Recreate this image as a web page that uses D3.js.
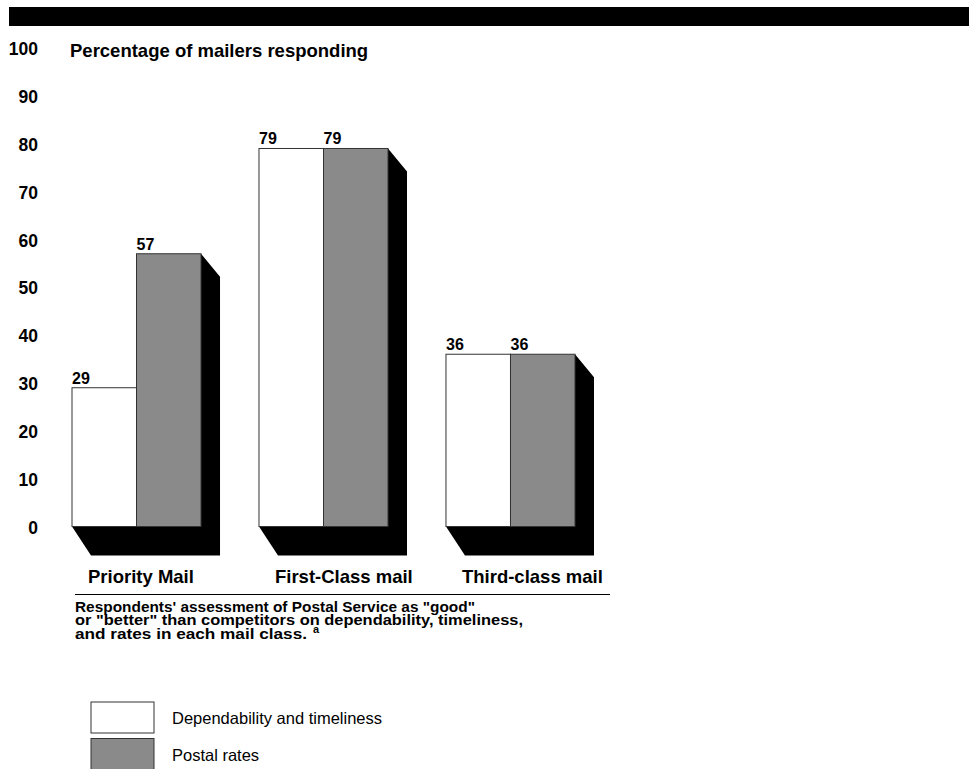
<!DOCTYPE html>
<html>
<head>
<meta charset="utf-8">
<script src="https://cdn.jsdelivr.net/npm/d3@7"></script>
<style>
  body { margin: 0; background: #fff; }
  svg { display: block; font-family: "Liberation Sans", Arial, sans-serif; }
</style>
</head>
<body>
<svg id="chart" width="969" height="769"></svg>
<script>
// data
const categories = ["Priority Mail", "First-Class mail", "Third-class mail"];
const seriesNames = ["Dependability and timeliness", "Postal rates"];
const dependability = [29, 79, 36];
const postalRates = [57, 79, 36];
const yTicks = [0, 10, 20, 30, 40, 50, 60, 70, 80, 90, 100];
const captionLines = [
  "Respondents' assessment of Postal Service as \"good\"",
  "or \"better\" than competitors on dependability, timeliness,",
  "and rates in each mail class."
];
const captionWidths = [400, 448, 232];

const colors = ["#ffffff", "#8a8a8a"];
const svg = d3.select("#chart");

// barra negra superior
svg.append("rect").attr("x", 9).attr("y", 7).attr("width", 960).attr("height", 19).attr("fill", "#000");

const x = d3.scaleBand().domain(categories).range([72, 575]).paddingInner(0.31).paddingOuter(0);
const xs = d3.scaleBand().domain(seriesNames).range([0, x.bandwidth()]);
const y = d3.scaleLinear().domain([0, 100]).range([526.5, 48]);

// eje Y solo con etiquetas
const yAxis = svg.append("g")
  .attr("transform", "translate(38,1)")
  .call(d3.axisLeft(y).tickValues(yTicks).tickSize(0).tickPadding(0));
yAxis.select(".domain").remove();
yAxis.selectAll("text")
  .attr("font-size", 17.5).attr("font-weight", "bold").attr("fill", "#000")
  .attr("font-family", "Liberation Sans, Arial, sans-serif");

svg.append("text").attr("x", 70).attr("y", 56.5)
  .attr("font-size", 18.5).attr("font-weight", "bold")
  .text("Percentage of mailers responding");

const rows = categories.map((c, i) => ({ cat: c, vals: [dependability[i], postalRates[i]] }));

// sombra 3D
const dx = 19, dyTop = 23, dyBot = 29;
const y0 = y(0);
svg.append("g").selectAll("polygon").data(rows).join("polygon")
  .attr("fill", "#000")
  .attr("points", d => {
    const gL = x(d.cat), gR = x(d.cat) + x.bandwidth(), yt = y(d.vals[1]);
    return [[gL, y0], [gR, y0], [gR, yt], [gR + dx, yt + dyTop], [gR + dx, y0 + dyBot], [gL + dx, y0 + dyBot]]
      .map(p => p.join(",")).join(" ");
  });

// barras
const groups = svg.append("g").selectAll("g").data(rows).join("g")
  .attr("transform", d => `translate(${x(d.cat)},0)`);
groups.selectAll("rect").data(d => d.vals.map((v, j) => ({ v, s: seriesNames[j], j }))).join("rect")
  .attr("x", d => xs(d.s))
  .attr("y", d => y(d.v))
  .attr("width", xs.bandwidth())
  .attr("height", d => y0 - y(d.v))
  .attr("fill", d => colors[d.j])
  .attr("stroke", "#333").attr("stroke-width", 1);

groups.selectAll("text.val").data(d => d.vals.map((v, j) => ({ v, s: seriesNames[j] }))).join("text")
  .attr("class", "val")
  .attr("x", d => xs(d.s))
  .attr("y", d => y(d.v) - 4)
  .attr("font-size", 16).attr("font-weight", "bold")
  .text(d => d.v);

// etiquetas de categoría
svg.append("g").selectAll("text").data(categories).join("text")
  .attr("x", d => x(d) + 16).attr("y", 583)
  .attr("font-size", 18.5).attr("font-weight", "bold")
  .text(d => d);

svg.append("line").attr("x1", 75).attr("x2", 610).attr("y1", 594.5).attr("y2", 594.5)
  .attr("stroke", "#000").attr("stroke-width", 1);

// leyenda del gráfico
captionLines.forEach((t, i) => {
  svg.append("text").attr("x", 75).attr("y", 612 + i * 13.3)
    .attr("font-size", 15.5).attr("font-weight", "bold")
    .attr("textLength", captionWidths[i]).attr("lengthAdjust", "spacingAndGlyphs")
    .text(t);
});
svg.append("text").attr("x", 75 + captionWidths[2] + 6).attr("y", 633)
  .attr("font-size", 11).attr("font-weight", "bold").text("a");

const legend = svg.append("g").selectAll("g").data(seriesNames).join("g")
  .attr("transform", (d, i) => `translate(91,${702 + i * 36.5})`);
legend.append("rect").attr("width", 63).attr("height", 31)
  .attr("fill", (d, i) => colors[i]).attr("stroke", "#333").attr("stroke-width", 1);
legend.append("text").attr("x", 81).attr("y", 22).attr("font-size", 16.5).text(d => d);
</script>
</body>
</html>
